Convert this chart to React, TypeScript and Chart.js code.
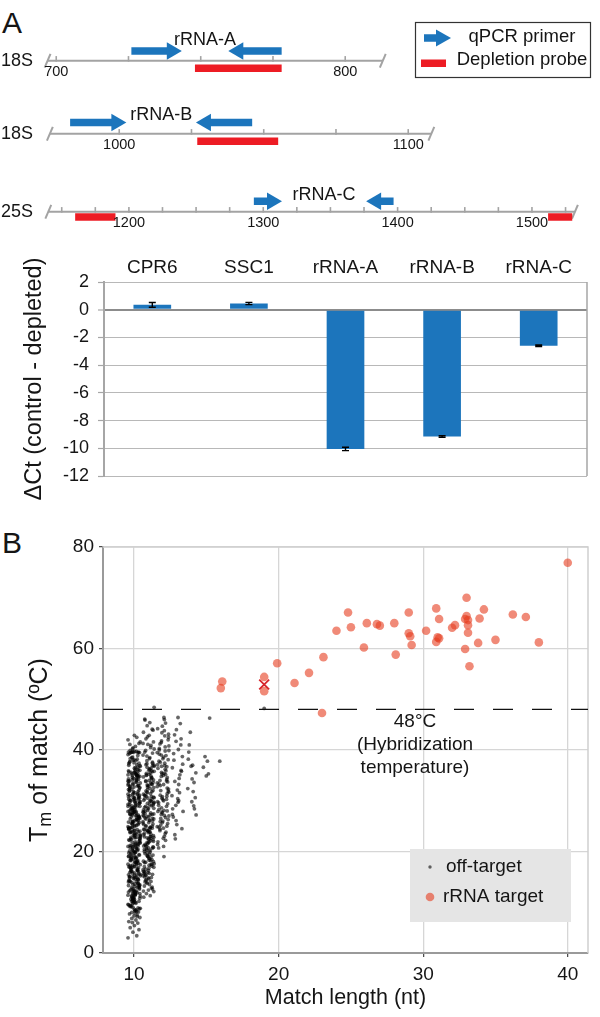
import React, { useEffect, useRef } from 'react';
import { Chart, registerables } from 'chart.js';

Chart.register(...registerables);

const FONT = '"Liberation Sans", Arial, Helvetica, sans-serif';
const INK = '#151515';
const BLUE = '#1c75bc';
const RED = '#ed1c24';
const TRACK_GRAY = '#a3a3a3';

/* ---------------- Panel A (top): rRNA maps ---------------- */
const trackRRNA = ['18S', '18S', '25S'];
const trackAmplicon = ['rRNA-A', 'rRNA-B', 'rRNA-C'];
const backboneStart = [697, 976, 1140];
const backboneEnd = [813, 1108, 1532];
const trackTicks1 = [700, 725, 750, 775, 800];
const trackTicks2 = [1000, 1025, 1050, 1075, 1100];
const trackTicks3 = [1150, 1175, 1200, 1225, 1250, 1275, 1300, 1325, 1350, 1375, 1400, 1425, 1450, 1475, 1500, 1525];
const trackTickLabels1 = [700, 800];
const trackTickLabels2 = [1000, 1100];
const trackTickLabels3 = [1200, 1300, 1400, 1500];
const fwdPrimerStart = [726, 983, 1293];
const fwdPrimerHead = [740, 999, 1306.5];
const revPrimerStart = [778, 1046, 1397];
const revPrimerHead = [763, 1030, 1384];
const probeStart1 = [748];
const probeEnd1 = [778];
const probeStart2 = [1027];
const probeEnd2 = [1055];
const probeStart3 = [1160, 1512];
const probeEnd3 = [1190, 1530];

const trackTicks = [trackTicks1, trackTicks2, trackTicks3];
const trackTickLabels = [trackTickLabels1, trackTickLabels2, trackTickLabels3];
const probeStarts = [probeStart1, probeStart2, probeStart3];
const probeEnds = [probeEnd1, probeEnd2, probeEnd3];

/* ---------------- Panel A (bottom): qPCR ---------------- */
const genes = ['CPR6', 'SSC1', 'rRNA-A', 'rRNA-B', 'rRNA-C'];
const deltaCt = [0.35, 0.45, -10.05, -9.15, -2.6];
const deltaCtError = [0.17, 0.08, 0.12, 0.06, 0.05];

/* ---------------- Panel B: Tm vs match length ---------------- */
const offTargetLength = [10, 11, 12, 13, 14, 15, 16, 19];
const tm10 = [
  3.0, 3.4, 4.1, 4.6, 5.0, 5.4, 5.9, 6.2, 6.5, 6.8, 7.0, 7.3, 7.5, 7.7, 7.9, 6.0,
  8.1, 9.3, 8.5, 9.9, 8.7, 9.1, 8.3, 9.5, 8.9, 9.7, 8.4, 9.2, 8.8, 9.6, 8.2, 9.0,
  10.2, 23.7, 15.8, 31.4, 19.1, 27.6, 12.9, 34.8, 21.3, 16.6, 29.2, 11.4, 25.5, 33.0, 18.2, 14.1, 30.7, 22.6, 26.8, 35.6,
  13.3, 20.4, 28.1, 11.8, 32.5, 17.4, 24.9, 35.1, 15.0, 22.0, 30.1, 10.6, 26.2, 19.7, 33.7, 13.9, 28.9, 17.0, 24.3, 31.9,
  12.1, 21.8, 34.2, 16.1, 27.1, 10.9, 29.8, 18.8, 23.2, 35.9, 14.6, 25.9, 20.9, 32.8, 11.2, 27.9, 15.4, 33.4, 19.4, 24.6,
  30.4, 13.6, 22.3, 17.8, 35.3, 26.5, 10.4, 31.2, 20.1, 14.9, 28.4, 23.9, 12.5, 34.5, 18.5, 29.5, 16.3, 25.2, 32.2, 21.1,
  11.0, 19.9, 27.4, 15.2, 33.9, 23.4, 12.7, 30.9, 17.2, 26.0, 35.4, 14.3, 21.6, 29.0, 10.8, 24.1, 18.0, 32.0, 13.1, 28.6,
  16.8, 22.8, 34.0, 11.6, 25.7, 19.5, 31.6, 14.0, 27.2, 20.6, 35.8, 12.3, 23.0, 29.3, 17.6, 33.2, 15.6, 26.4, 10.1, 21.4,
  30.3, 18.6, 24.8, 13.4, 32.7, 20.2, 28.0, 11.5, 35.0, 16.0, 22.5, 27.8, 14.7, 31.1, 19.0, 25.0, 12.0, 34.7, 17.3, 23.6,
  29.7, 15.5, 21.0, 33.6, 10.5, 26.9, 18.3, 30.6, 13.8, 24.4, 35.2, 16.9, 22.1, 28.7, 11.9, 32.4, 19.8, 25.4, 14.4, 27.3,
  20.7, 31.8, 12.6, 23.8, 17.1, 34.3, 26.1, 10.3, 29.1, 15.9, 21.7, 33.1, 18.1, 25.8, 13.2, 30.0, 22.9, 16.4, 35.7, 27.0,
  11.3, 24.0, 19.2, 32.9, 14.2, 28.3, 20.3, 34.9, 16.7, 26.3, 12.4, 30.5, 22.4, 17.9, 33.3, 25.3, 10.7, 29.6, 15.1, 23.3,
  31.3, 18.9, 27.7, 13.0, 21.2, 35.5, 16.2, 24.5, 29.4, 11.1, 32.6, 20.0, 26.6, 14.8, 22.7, 34.1, 17.7, 28.2, 12.2, 30.2,
  19.3, 25.6, 15.3, 33.8, 21.5, 27.5, 10.0, 31.0, 23.1, 17.5, 35.0, 13.5, 26.7, 20.8, 29.9, 14.5, 24.7, 18.7, 32.3, 11.7,
  10.9, 16.3, 22.2, 28.8, 34.6, 13.7, 19.6, 25.1, 31.5, 12.8, 18.4, 24.2, 30.8, 35.9, 15.7, 21.9, 27.4, 33.5, 11.4, 20.5,
  26.0, 32.1, 14.1, 23.5, 29.0, 17.0, 35.3, 10.2, 21.7, 27.7, 12.9, 33.9, 18.9, 24.8, 30.4, 16.6, 22.8, 34.4, 13.3, 28.5,
  19.7, 25.8, 31.8, 11.8, 17.9, 23.9, 29.8, 35.1, 14.9, 20.9, 26.9, 32.9, 12.3, 18.2, 24.5, 30.0, 16.1, 22.4, 28.2, 34.9,
  15.0, 21.3, 27.2, 33.0, 10.6, 17.4, 23.2, 29.5, 35.6, 13.6, 19.0, 25.5, 31.2, 11.6, 16.9, 22.7, 28.9, 34.2, 20.1, 26.6,
  9.4, 8.6, 36.6, 37.3, 9.8, 8.0, 36.0, 38.1, 7.2, 37.6, 14.6, 24.0, 30.6, 18.6, 26.3, 12.1, 32.5, 21.1, 27.9, 15.4,
  36.2, 38.6, 36.5, 37.7, 36.8, 39.1, 37.1, 38.0, 37.4, 38.3, 36.4, 38.9, 37.0, 37.9, 38.5, 36.9, 37.5, 38.2, 39.3, 36.1,
  39.6, 39.6, 39.5, 39.7, 39.6, 39.5, 39.6, 39.7, 39.6, 39.5,
  40.2, 40.7, 41.1, 41.6, 42.0, 42.5, 40.4, 41.3, 39.9, 42.9,
];
const tm11 = [
  11.0, 11.3, 11.7, 12.1, 12.4, 12.8, 13.2, 13.5, 13.9, 12.6,
  14.3, 22.1, 30.5, 18.0, 26.4, 35.2, 16.1, 24.6, 33.1, 20.2, 28.7, 37.0, 15.2, 23.4, 31.6, 19.3, 27.5, 36.0, 17.1, 25.3,
  32.4, 21.0, 29.6, 14.8, 34.3, 22.9, 18.6, 26.9, 37.6, 16.5, 30.0, 24.1, 20.8, 33.8, 15.7, 28.2, 35.7, 19.7, 23.8, 31.1,
  17.6, 25.9, 36.4, 21.5, 29.1, 14.0, 32.9, 18.4, 27.0, 24.8, 35.0, 16.9, 22.5, 30.8, 20.0, 26.2, 37.3, 15.5, 28.9, 33.5,
  19.0, 23.1, 31.9, 17.3, 34.7, 25.0, 21.8, 29.9, 15.0, 36.8, 27.8, 18.9, 32.2, 22.3, 26.6, 14.6, 30.3, 24.4, 35.5, 20.5,
  28.5, 16.3, 33.3, 23.6, 19.5, 37.9, 26.0, 21.2, 31.4, 15.9, 29.4, 24.9, 34.0, 18.1, 27.3, 22.7, 36.2, 17.8, 30.6, 25.6,
  14.1, 32.7, 20.9, 28.0, 16.7, 35.9, 23.3, 19.9, 30.9, 26.4, 21.7, 34.6, 17.0, 29.2, 24.2, 37.4, 15.4, 27.6, 33.0, 22.0,
  25.1, 18.3, 31.3, 20.6, 36.6, 23.9, 15.8, 29.7, 27.1, 34.9, 19.1, 32.0, 21.4, 26.8, 17.5, 30.1, 24.7, 35.4, 22.8, 28.4,
  14.9, 20.4, 26.1, 31.7, 36.9, 17.9, 23.0, 28.6, 34.1, 15.3, 21.9, 27.7, 33.2, 19.2, 24.5, 30.4, 35.8, 16.4, 22.6, 29.5,
  25.4, 31.0, 18.7, 34.5, 21.1, 27.2, 14.5, 32.6, 23.7, 29.0, 16.0, 36.3, 20.3, 26.5, 33.9, 18.2, 24.0, 30.7, 37.1, 22.4,
  12.2, 13.0, 13.7, 38.5, 39.6, 40.2, 41.3, 17.4, 28.1, 33.6, 19.6, 25.7, 31.8, 15.6, 22.9, 35.1, 27.4, 20.7, 29.8, 24.3,
  38.3, 38.8, 39.4, 39.9, 40.5, 41.1, 41.6, 42.2, 42.9, 43.5, 44.1, 44.8, 45.4, 46.1, 48.4, 39.0, 40.9, 42.6, 43.9, 45.9,
];
const tm12 = [
  19.0, 27.3, 34.6, 41.2, 23.5, 30.8, 38.1, 25.9, 33.2, 21.4, 36.7, 28.6, 43.8, 24.8, 31.7, 39.5, 26.7, 35.3, 29.4, 40.3,
  22.6, 33.9, 27.9, 37.4, 25.2, 42.5, 30.2, 35.9, 20.7, 28.1, 39.0, 32.5, 24.1, 36.2, 44.7, 26.3, 31.1, 38.6, 29.8, 34.2,
  41.8, 23.0, 37.8, 27.0, 33.5, 45.3, 30.5, 25.5, 40.0, 35.0, 28.9, 21.9, 36.9, 32.0, 43.1, 26.0, 38.9, 29.1, 46.4, 34.8,
  31.4, 24.4, 39.8, 27.6, 42.0, 33.0, 30.0, 37.1, 25.0, 35.6, 46.0, 28.3, 40.8, 32.8, 22.2,
  27.8, 33.7, 39.2, 24.6, 30.3, 36.4, 42.8, 26.5, 32.3, 38.3, 23.8, 29.6, 35.4, 41.5, 28.0, 34.0, 40.6, 25.7, 31.9, 37.6,
  21.0, 44.2, 30.9, 36.8, 27.1, 33.3, 39.9, 24.9, 35.2, 43.4,
];
const tm13 = [
  23.3, 29.7, 36.5, 42.2, 26.1, 33.2, 39.3, 27.9, 31.0, 35.1, 44.0, 24.5, 38.0, 30.4, 41.0, 28.4, 34.4, 22.5, 37.2, 32.1,
  45.2, 26.8, 40.1, 29.1, 35.8, 43.0, 31.6, 25.3, 38.7, 33.8, 46.4, 27.3, 36.0, 41.7, 30.0,
];
const tm14 = [27.2, 32.4, 29.0, 36.8, 30.6, 41.0, 34.3, 28.4, 38.2, 31.8, 43.5, 35.5, 29.8, 33.6, 39.6, 37.0];
const tm15 = [35.3, 36.6, 37.8, 38.7, 46.3, 34.9];
const tm16 = [37.8];
const tm19 = [48.2];
const offTargetTm = [tm10, tm11, tm12, tm13, tm14, tm15, tm16, tm19];

const targetLength = [16, 16.1, 19, 19, 19.9, 21.1, 22.1, 23.1, 23, 24, 24.8, 25, 25.9, 26.1, 26.8, 27, 28, 28.1, 29, 29,
  29.1, 29.2, 30.2, 30.9, 31.1, 31, 30.9, 32, 32.2, 33, 33, 32.9, 33.1, 33.1, 33.1, 32.9, 33.2, 33.8, 33.9, 34.2,
  35, 36.2, 37.1, 38, 40, 31.1];
const targetTm = [52.2, 53.5, 54.4, 51.6, 57.1, 53.2, 55.2, 58.3, 47.3, 63.5, 67.1, 64.2, 60.2, 65, 64.8, 64.5, 65, 58.8, 67.1, 63,
  62.4, 60.7, 63.5, 67.9, 65.8, 62.2, 61.3, 64.1, 64.6, 70, 66.4, 65.8, 65.6, 64.6, 63.1, 59.9, 56.5, 61.1, 65.9, 67.7,
  61.7, 66.7, 66.2, 61.2, 76.9, 62.0];
const markedLength = [19];
const markedTm = [52.9];
const hybridizationTemp = 48;

/* ---------------- layout / style constants ---------------- */
const TRACK_H = 80;
const TRACK_LAYOUT = [
  { top: 17, min: 684, max: 884.7, primerRow: 13, probeRow: -10, labelRow: 28, tickLabelRow: -14.5 },
  { top: 90, min: 962.2, max: 1162.9, primerRow: 15, probeRow: -10, labelRow: 25, tickLabelRow: -15 },
  { top: 168, min: 1111.5, max: 1543.2, primerRow: 14, probeRow: -7, labelRow: 22, tickLabelRow: -15 },
];
const HEAD_R = 10;
const JITTER = [-0.95, 0.42, -0.18, 0.77, -0.61, 0.05, 0.58, -0.83, 0.29, -0.37, 0.91, -0.02, 0.49, -0.72, 0.16,
  -0.28, 0.69, -0.5, 0.36, -0.11, 0.85, -0.45, 0.1, -0.88, 0.63, -0.24, 0.22, -0.66, 0.97];
const JITTER_WIDTH = [0.44, 0.4, 0.42, 0.4, 0.3, 0.25, 0.1, 0];

const baseOptions: any = {
  animation: false,
  responsive: false,
  maintainAspectRatio: false,
  devicePixelRatio: 1,
  events: [],
};

function buildTrack(canvas: HTMLCanvasElement, i: number) {
  const L = TRACK_LAYOUT[i];
  const datasets: any[] = [];
  datasets.push({
    data: [{ x: fwdPrimerStart[i], y: L.primerRow }, { x: fwdPrimerHead[i], y: L.primerRow }],
    showLine: true, borderColor: BLUE, borderWidth: 7.5, borderCapStyle: 'butt',
    pointStyle: 'triangle', pointRadius: [0, HEAD_R], pointRotation: [0, 90],
    pointBackgroundColor: BLUE, pointBorderColor: BLUE, pointBorderWidth: 0,
  });
  datasets.push({
    data: [{ x: revPrimerStart[i], y: L.primerRow }, { x: revPrimerHead[i], y: L.primerRow }],
    showLine: true, borderColor: BLUE, borderWidth: 7.5, borderCapStyle: 'butt',
    pointStyle: 'triangle', pointRadius: [0, HEAD_R], pointRotation: [0, -90],
    pointBackgroundColor: BLUE, pointBorderColor: BLUE, pointBorderWidth: 0,
  });
  probeStarts[i].forEach((s, j) => {
    datasets.push({
      data: [{ x: s, y: L.probeRow }, { x: probeEnds[i][j], y: L.probeRow }],
      showLine: true, borderColor: RED, borderWidth: 7.5, borderCapStyle: 'butt', pointRadius: 0,
    });
  });
  datasets.push({
    data: trackTicks[i].map((v) => ({ x: v, y: 2.5 })),
    showLine: false, pointStyle: 'line', pointRotation: 90, pointRadius: 2.8,
    pointBorderColor: TRACK_GRAY, pointBorderWidth: 1.6,
  });
  datasets.push({
    data: [{ x: backboneStart[i], y: 0 }, { x: backboneEnd[i], y: 0 }],
    showLine: true, borderColor: TRACK_GRAY, borderWidth: 2,
    pointStyle: 'line', pointRotation: -67, pointRadius: 7.5,
    pointBorderColor: TRACK_GRAY, pointBorderWidth: 2,
  });

  const textPlugin = {
    id: 'trackText' + i,
    afterDatasetsDraw(chart: any) {
      const { ctx, scales } = chart;
      const x = scales.x, y = scales.y;
      ctx.save();
      ctx.fillStyle = INK;
      ctx.textBaseline = 'middle';
      ctx.font = `18px ${FONT}`;
      ctx.textAlign = 'left';
      ctx.fillText(trackRRNA[i], 1, y.getPixelForValue(0));
      ctx.textAlign = 'center';
      const mid = (fwdPrimerHead[i] + revPrimerHead[i]) / 2;
      ctx.fillText(trackAmplicon[i], x.getPixelForValue(mid), y.getPixelForValue(L.labelRow));
      ctx.font = `14.5px ${FONT}`;
      trackTickLabels[i].forEach((v) => {
        ctx.fillText(String(v), x.getPixelForValue(v), y.getPixelForValue(L.tickLabelRow));
      });
      if (i === 0) {
        const oy = L.top;
        ctx.strokeStyle = '#333';
        ctx.lineWidth = 1.2;
        ctx.strokeRect(415.5, 22.5 - oy, 175, 55);
        ctx.fillStyle = BLUE;
        ctx.fillRect(424, 38 - oy - 3.75, 14, 7.5);
        ctx.beginPath();
        ctx.moveTo(451, 38 - oy);
        ctx.lineTo(436, 38 - oy - 8.6);
        ctx.lineTo(436, 38 - oy + 8.6);
        ctx.closePath();
        ctx.fill();
        ctx.fillStyle = RED;
        ctx.fillRect(421, 59.5 - oy, 25, 7.5);
        ctx.fillStyle = INK;
        ctx.font = `18.5px ${FONT}`;
        ctx.textAlign = 'center';
        ctx.fillText('qPCR primer', 522, 37 - oy);
        ctx.fillText('Depletion probe', 522, 60 - oy);
      }
      ctx.restore();
    },
  };

  return new Chart(canvas, {
    type: 'scatter',
    data: { datasets },
    options: {
      ...baseOptions,
      layout: { padding: 0 },
      plugins: { legend: { display: false }, tooltip: { enabled: false } },
      scales: {
        x: { type: 'linear', display: false, min: L.min, max: L.max },
        y: { type: 'linear', display: false, min: -35, max: 45 },
      },
    },
    plugins: [textPlugin],
  } as any);
}

function buildBars(canvas: HTMLCanvasElement) {
  const errorPlugin = {
    id: 'errorBars',
    afterDatasetsDraw(chart: any) {
      const { ctx, chartArea: a } = chart;
      const ys = chart.scales.y;
      const meta = chart.getDatasetMeta(0);
      ctx.save();
      ctx.strokeStyle = '#a6a6a6';
      ctx.lineWidth = 1.5;
      ctx.beginPath();
      ctx.moveTo(a.right, a.top);
      ctx.lineTo(a.right, a.bottom);
      ctx.stroke();
      ctx.strokeStyle = '#000';
      ctx.lineWidth = 1.4;
      meta.data.forEach((bar: any, k: number) => {
        const bx = bar.x;
        const hi = ys.getPixelForValue(deltaCt[k] + deltaCtError[k]);
        const lo = ys.getPixelForValue(deltaCt[k] - deltaCtError[k]);
        ctx.beginPath();
        ctx.moveTo(bx, hi); ctx.lineTo(bx, lo);
        ctx.moveTo(bx - 3.5, hi); ctx.lineTo(bx + 3.5, hi);
        ctx.moveTo(bx - 3.5, lo); ctx.lineTo(bx + 3.5, lo);
        ctx.stroke();
      });
      ctx.restore();
    },
  };
  return new Chart(canvas, {
    type: 'bar',
    data: {
      labels: genes,
      datasets: [{
        data: deltaCt,
        backgroundColor: BLUE,
        borderWidth: 0,
        barPercentage: 0.39,
        categoryPercentage: 1,
      }],
    },
    options: {
      ...baseOptions,
      layout: { padding: { left: 0, right: 13, top: 0, bottom: 34 } },
      plugins: { legend: { display: false }, tooltip: { enabled: false } },
      scales: {
        x: {
          position: 'top',
          grid: { display: false, drawTicks: false },
          border: { display: false },
          ticks: { font: { family: FONT, size: 19 }, color: INK, padding: 3 },
          afterFit: (s: any) => { s.height = 32; },
        },
        y: {
          min: -12, max: 2,
          ticks: { stepSize: 2, font: { family: FONT, size: 18 }, color: INK, padding: 9 },
          grid: {
            color: (c: any) => (c.tick && c.tick.value === 0 ? '#8c8c8c' : '#b8b8b8'),
            lineWidth: (c: any) => (c.tick && c.tick.value === 0 ? 2 : 1),
            drawTicks: true, tickLength: 6, tickColor: '#a6a6a6', tickWidth: 1.2,
          },
          border: { color: '#a6a6a6', width: 2 },
          title: {
            display: true, text: 'ΔCt (control - depleted)', color: INK,
            font: { family: FONT, size: 23.5 }, padding: { top: 20, bottom: 0 },
          },
          afterFit: (s: any) => { s.width = 104; },
        },
      },
    },
    plugins: [errorPlugin],
  } as any);
}

function buildScatter(canvas: HTMLCanvasElement) {
  const offTargetPoints = offTargetLength.flatMap((len, k) =>
    offTargetTm[k].map((tm, i) => ({ x: len + JITTER[(i + k * 7) % JITTER.length] * JITTER_WIDTH[k], y: tm })));
  const targetPoints = targetLength.map((len, i) => ({ x: len, y: targetTm[i] }));
  const markedPoints = markedLength.map((len, i) => ({ x: len, y: markedTm[i] }));

  const decorPlugin = {
    id: 'scatterDecor',
    beforeDatasetsDraw(chart: any) {
      const { ctx, chartArea: a } = chart;
      ctx.save();
      ctx.strokeStyle = '#cfcfcf';
      ctx.lineWidth = 1.5;
      ctx.beginPath();
      ctx.moveTo(a.left, a.top); ctx.lineTo(a.right, a.top); ctx.lineTo(a.right, a.bottom);
      ctx.stroke();
      ctx.restore();
    },
    afterDraw(chart: any) {
      const { ctx, chartArea: a, scales } = chart;
      const oy = 520;
      ctx.save();
      const y48 = scales.y.getPixelForValue(hybridizationTemp);
      ctx.fillStyle = INK;
      ctx.textAlign = 'center';
      ctx.textBaseline = 'middle';
      ctx.font = `19px ${FONT}`;
      const tx = 415;
      ctx.fillText('48°C', tx, y48 + 12);
      ctx.fillText('(Hybridization', tx, y48 + 35);
      ctx.fillText('temperature)', tx, y48 + 58);
      ctx.fillStyle = '#e5e5e5';
      ctx.fillRect(410, 849 - oy, 161, 73);
      ctx.fillStyle = 'rgba(60,60,60,0.8)';
      ctx.beginPath(); ctx.arc(430, 867 - oy, 1.7, 0, Math.PI * 2); ctx.fill();
      ctx.fillStyle = 'rgba(230,60,30,0.6)';
      ctx.beginPath(); ctx.arc(430, 897 - oy, 4.3, 0, Math.PI * 2); ctx.fill();
      ctx.fillStyle = INK;
      ctx.textAlign = 'left';
      ctx.fillText('off-target', 446, 867 - oy);
      ctx.fillText('rRNA target', 443, 897 - oy);
      ctx.translate(46.5, (a.top + a.bottom) / 2);
      ctx.rotate(-Math.PI / 2);
      ctx.textBaseline = 'alphabetic';
      const big = `25px ${FONT}`;
      const small = `18px ${FONT}`;
      ctx.font = big;
      const wT = ctx.measureText('T').width;
      const rest = ' of match (ºC)';
      const wRest = ctx.measureText(rest).width;
      ctx.font = small;
      const wm = ctx.measureText('m').width;
      const x0 = -(wT + wm + wRest) / 2;
      ctx.font = big; ctx.fillText('T', x0, 0);
      ctx.font = small; ctx.fillText('m', x0 + wT, 4);
      ctx.font = big; ctx.fillText(rest, x0 + wT + wm, 0);
      ctx.restore();
    },
  };

  return new Chart(canvas, {
    type: 'scatter',
    data: {
      datasets: [
        {
          data: markedPoints, pointStyle: 'crossRot', pointRadius: 7,
          pointBorderColor: '#d7262b', pointBorderWidth: 1.8, pointBackgroundColor: 'rgba(0,0,0,0)',
        },
        {
          data: targetPoints, pointRadius: 4.3, pointBorderWidth: 0,
          pointBackgroundColor: 'rgba(230,60,30,0.6)', pointBorderColor: 'rgba(0,0,0,0)',
        },
        {
          data: [{ x: 7.85, y: hybridizationTemp }, { x: 41.4, y: hybridizationTemp }],
          showLine: true, borderColor: '#111', borderWidth: 1.3, borderDash: [20, 19], pointRadius: 0,
        },
        {
          data: offTargetPoints, pointRadius: 1.9, pointBorderWidth: 0,
          pointBackgroundColor: 'rgba(0,0,0,0.6)', pointBorderColor: 'rgba(0,0,0,0)',
        },
      ],
    },
    options: {
      ...baseOptions,
      layout: { padding: { left: 0, right: 12, top: 27, bottom: 0 } },
      plugins: { legend: { display: false }, tooltip: { enabled: false } },
      scales: {
        x: {
          type: 'linear', min: 7.85, max: 41.4,
          ticks: { stepSize: 10, includeBounds: false, font: { family: FONT, size: 19 }, color: INK, padding: 6.5 },
          grid: { color: '#d6d6d6', lineWidth: 1.3, drawTicks: true, tickLength: 4, tickColor: '#444', tickWidth: 1.2 },
          border: { color: '#9a9a9a', width: 2 },
          title: {
            display: true, text: 'Match length (nt)', color: INK,
            font: { family: FONT, size: 21.5 }, padding: { top: 0, bottom: 6 },
          },
          afterFit: (s: any) => { s.height = 64; },
        },
        y: {
          type: 'linear', min: 0, max: 80,
          ticks: { stepSize: 20, font: { family: FONT, size: 19 }, color: INK, padding: 5 },
          grid: { color: '#d6d6d6', lineWidth: 1.3, drawTicks: true, tickLength: 4, tickColor: '#444', tickWidth: 1.2 },
          border: { color: '#9a9a9a', width: 2 },
          afterFit: (s: any) => { s.width = 103; },
        },
      },
    },
    plugins: [decorPlugin],
  } as any);
}

function ChartCanvas({ top, height, build }: { top: number; height: number; build: (c: HTMLCanvasElement) => Chart }) {
  const ref = useRef<HTMLCanvasElement>(null);
  useEffect(() => {
    if (!ref.current) return;
    const chart = build(ref.current);
    return () => chart.destroy();
  }, []);
  return (
    <canvas
      ref={ref}
      width={600}
      height={height}
      style={{ position: 'absolute', left: 0, top, width: 600, height, display: 'block' }}
    />
  );
}

const panelLabel: React.CSSProperties = {
  position: 'absolute',
  left: 2,
  fontFamily: FONT,
  fontSize: 30,
  lineHeight: '30px',
  color: INK,
  margin: 0,
};

export default function App() {
  return (
    <div style={{ position: 'absolute', left: 0, top: 0, width: 600, height: 1017, background: '#fff', overflow: 'hidden' }}>
      <div style={{ ...panelLabel, top: 7.5 }}>A</div>
      <div style={{ ...panelLabel, top: 527.5 }}>B</div>
      {TRACK_LAYOUT.map((L, i) => (
        <ChartCanvas key={i} top={L.top} height={TRACK_H} build={(c) => buildTrack(c, i)} />
      ))}
      <ChartCanvas top={250} height={260} build={buildBars} />
      <ChartCanvas top={520} height={497} build={buildScatter} />
    </div>
  );
}
